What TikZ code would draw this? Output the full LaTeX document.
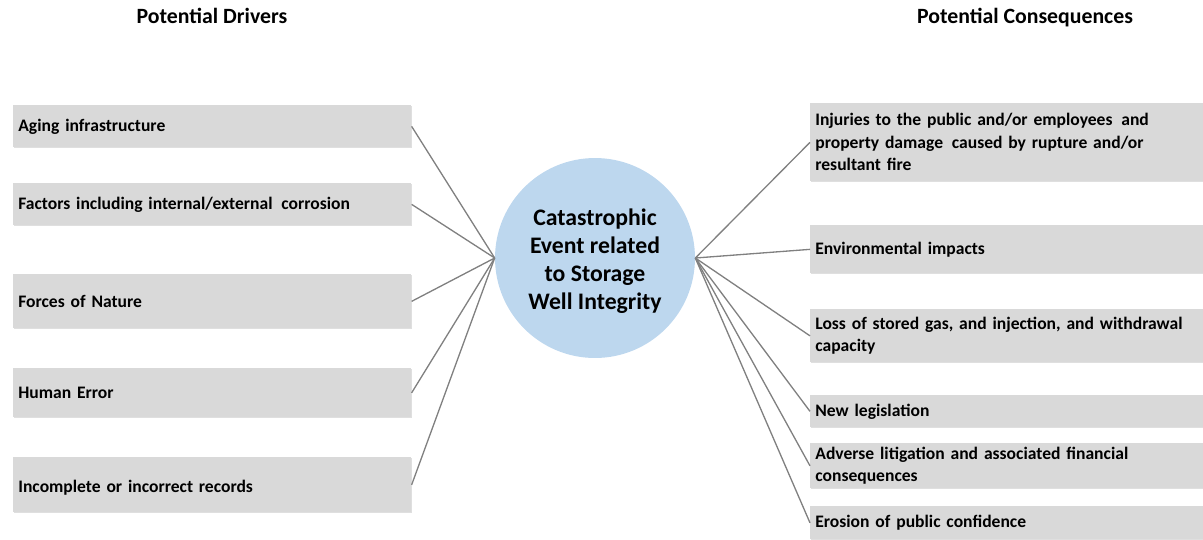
\documentclass[tikz,border=0pt]{standalone}
\usepackage{fontspec}
\setmainfont{Carlito}
\usetikzlibrary{positioning, shadows}
\definecolor{boxgray}{RGB}{217,217,217}
\definecolor{eventblue}{RGB}{189,215,238}
\definecolor{linkgray}{RGB}{128,128,128}

\begin{document}
\begin{tikzpicture}[x=0.02cm, y=-0.02cm,
    font=\bfseries\fontsize{10}{12.8}\selectfont,
    factor/.style={fill=boxgray, anchor=north west, align=left, inner xsep=0.1cm,
      inner ysep=0pt, drop shadow={shadow xshift=0.6pt, shadow yshift=-0.6pt, opacity=0.25}},
    driver/.style={factor, text width=7.76cm},
    outcome/.style={factor, text width=7.66cm},
    heading/.style={anchor=base, font=\bfseries\fontsize{12.4}{14}\selectfont},
    link/.style={draw=linkgray, line width=0.75pt}]
  \useasboundingbox (0,0) rectangle (1203,539);
  % column headings
  \node[heading] (drvhead) at (212,23) {Potential Drivers};
  \node[heading] (conhead) at (1025,23) {Potential Consequences};
  % drivers on the left
  \node[driver, minimum height=0.84cm] (aging) at (13,105) {Aging infrastructure};
  \node[driver, minimum height=0.84cm] (corr) at (13,183) {Factors including internal/external\enspace corrosion};
  \node[driver, minimum height=1.08cm] (nature) at (13,274) {Forces of Nature};
  \node[driver, minimum height=0.98cm] (human) at (13,368) {Human Error};
  \node[driver, minimum height=1.10cm] (records) at (13,457) {\\[-2pt]Incomplete or incorrect records};
  % the event in the middle
  \node[circle, fill=eventblue, minimum size=4.0cm] (event) at (595,258) {};
  \node[align=center, font=\bfseries\fontsize{13.5}{15.9}\selectfont] (eventtext)
    at ([yshift=-0.07cm]event.center)
    {Catastrophic\\Event related\\to Storage\\Well Integrity};
  % consequences on the right
  \node[outcome, minimum height=1.56cm] (injury) at (810,103)
    {Injuries to the public and/or employees\enspace and\\property damage\enspace caused by rupture and/or\\resultant fire};
  \node[outcome, minimum height=0.96cm] (envir) at (810,225) {Environmental impacts};
  \node[outcome, minimum height=1.06cm] (gasloss) at (810,309)
    {Loss of stored gas, and injection, and withdrawal\\capacity};
  \node[outcome, minimum height=0.64cm] (legis) at (810,395) {New legislation};
  \node[outcome, minimum height=0.90cm] (litig) at (810,443)
    {Adverse litigation and associated financial\\consequences};
  \node[outcome, minimum height=0.66cm] (erosion) at (810,506) {Erosion of public confidence};
  % connectors
  \foreach \d in {aging, corr, nature, human, records}
    \draw[link] (\d.east) -- (event.west);
  \foreach \c in {injury, envir, gasloss, legis, litig, erosion}
    \draw[link] (event.east) -- (\c.west);
\end{tikzpicture}
\end{document}
